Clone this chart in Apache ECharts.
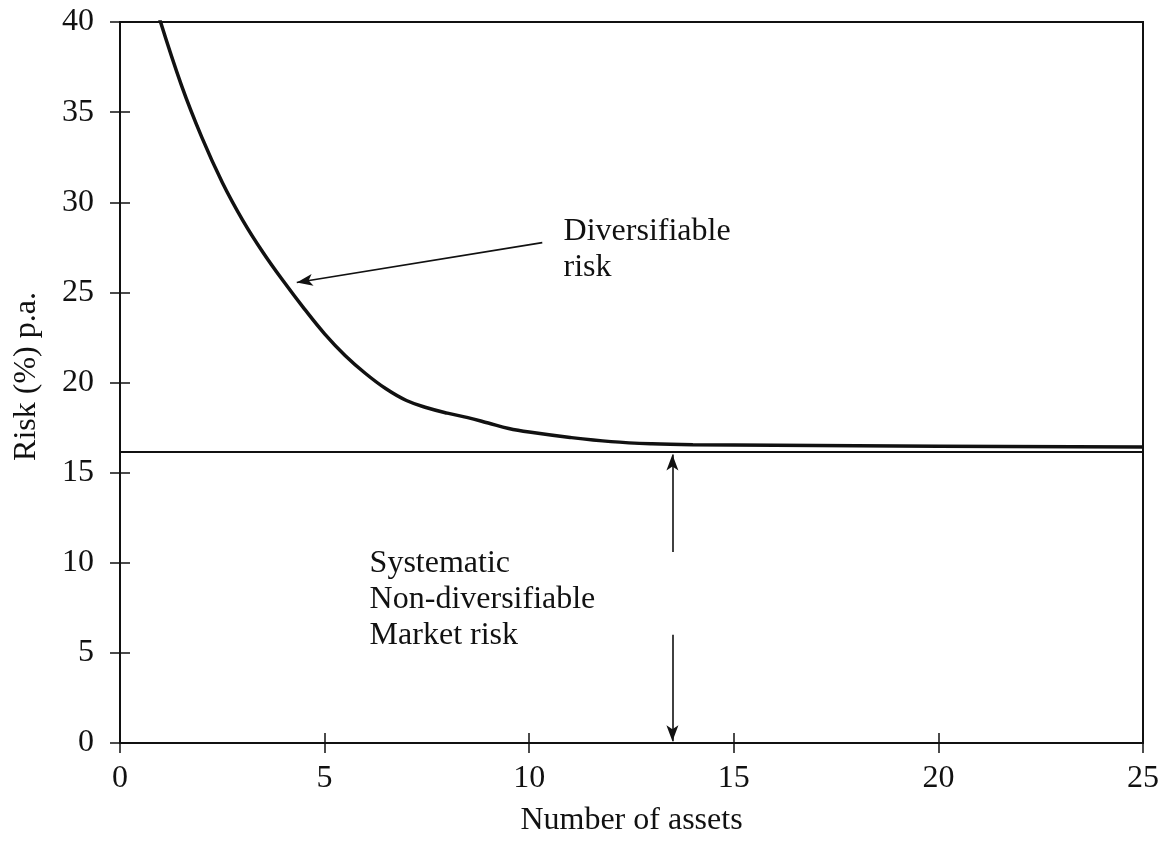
<!DOCTYPE html>
<html>
<head>
<meta charset="utf-8">
<script src="https://cdn.jsdelivr.net/npm/echarts@6/dist/echarts.min.js"></script>
<style>html,body{margin:0;padding:0;background:#fff}#c{width:1166px;height:842px}</style>
</head>
<body>
<div id="c"></div>
<script>
// Data
var curveX = [0.95, 1.5, 2.0, 2.5, 3.0, 3.5, 4.0, 4.5, 5.0, 5.5, 6.0, 6.5, 7.0, 7.5, 8.0, 8.5, 9.0, 9.5, 10, 11, 12, 13, 14, 16, 20, 25];
var curveY = [40.3, 36.5, 33.6, 31.1, 29.0, 27.2, 25.6, 24.1, 22.7, 21.5, 20.5, 19.65, 19.0, 18.6, 18.3, 18.05, 17.75, 17.45, 17.25, 16.95, 16.72, 16.6, 16.55, 16.52, 16.47, 16.42];
var marketX = [0, 25];
var marketY = [16.15, 16.15];
var xTicks = [0, 5, 10, 15, 20, 25];
var yTicks = [0, 5, 10, 15, 20, 25, 30, 35, 40];
var diversArrow = [[10.32, 27.76], [4.32, 25.55]];
var upArrow = [[13.5, 10.6], [13.5, 16.0]];
var downArrow = [[13.5, 6.0], [13.5, 0.1]];
var diversLabel = {pos: [10.84, 27.4], text: 'Diversifiable\nrisk'};
var systLabel = {pos: [6.1, 7.97], text: 'Systematic\nNon-diversifiable\nMarket risk'};

var FONT = "'Liberation Serif', 'Times New Roman', serif";
var BLACK = '#111';
var FS = 32;

function zip(xs, ys) { return xs.map(function (x, i) { return [x, ys[i]]; }); }

var chart = echarts.init(document.getElementById('c'));
var xBase = {
  type: 'value', min: xTicks[0], max: xTicks[xTicks.length - 1], interval: 5,
  splitLine: {show: false}
};
var yBase = {
  type: 'value', min: yTicks[0], max: yTicks[yTicks.length - 1], interval: 5,
  splitLine: {show: false}
};
var arrowLine = function (pts) {
  return [{coord: pts[0]}, {coord: pts[1]}];
};
chart.setOption({
  animation: false,
  backgroundColor: '#fff',
  grid: {left: 120, right: 23, top: 22, bottom: 97, show: true, borderColor: BLACK, borderWidth: 2, backgroundColor: 'transparent'},
  xAxis: [
    Object.assign({}, xBase, {
      position: 'bottom',
      name: 'Number of assets', nameLocation: 'middle', nameGap: 62,
      nameTextStyle: {fontFamily: FONT, fontSize: FS, color: BLACK},
      axisLine: {show: true, lineStyle: {color: BLACK, width: 2}},
      axisTick: {show: true, inside: false, length: 10, lineStyle: {color: BLACK, width: 1.5}},
      axisLabel: {fontFamily: FONT, fontSize: FS, color: BLACK, margin: 20}
    }),
    Object.assign({}, xBase, {
      position: 'bottom', offset: 0,
      axisLine: {show: false},
      axisTick: {show: true, inside: true, length: 10, lineStyle: {color: BLACK, width: 1.5}},
      axisLabel: {show: false}
    })
  ],
  yAxis: [
    Object.assign({}, yBase, {
      position: 'left',
      name: 'Risk (%) p.a.', nameLocation: 'middle', nameGap: 77,
      nameTextStyle: {fontFamily: FONT, fontSize: FS, color: BLACK, padding: [0, 0, 0, 12]},
      axisLine: {show: true, lineStyle: {color: BLACK, width: 2}},
      axisTick: {show: true, inside: false, length: 10, lineStyle: {color: BLACK, width: 1.5}},
      axisLabel: {fontFamily: FONT, fontSize: FS, color: BLACK, margin: 26}
    }),
    Object.assign({}, yBase, {
      position: 'left', offset: 0,
      axisLine: {show: false},
      axisTick: {show: true, inside: true, length: 10, lineStyle: {color: BLACK, width: 1.5}},
      axisLabel: {show: false}
    })
  ],
  series: [
    {
      type: 'line', name: 'market', data: zip(marketX, marketY),
      symbol: 'none', lineStyle: {color: BLACK, width: 2}, silent: true,
      markLine: {
        silent: true, symbol: ['none', 'arrow'], symbolSize: [9, 16],
        label: {show: false},
        lineStyle: {color: BLACK, width: 1.6, type: 'solid'},
        data: [arrowLine(diversArrow), arrowLine(upArrow), arrowLine(downArrow)]
      }
    },
    {
      type: 'line', name: 'total', data: zip(curveX, curveY), smooth: 0.4,
      symbol: 'none', lineStyle: {color: BLACK, width: 3.5}, clip: true
    },
    {
      type: 'scatter', symbolSize: 0, silent: true,
      itemStyle: {opacity: 1},
      data: [
        {value: diversLabel.pos, label: {formatter: diversLabel.text}},
        {value: systLabel.pos, label: {formatter: systLabel.text}}
      ],
      label: {show: true, position: 'right', distance: 0, align: 'left', verticalAlign: 'middle', opacity: 1,
        fontFamily: FONT, fontSize: FS, lineHeight: 36, color: BLACK}
    }
  ]
});
</script>
</body>
</html>
